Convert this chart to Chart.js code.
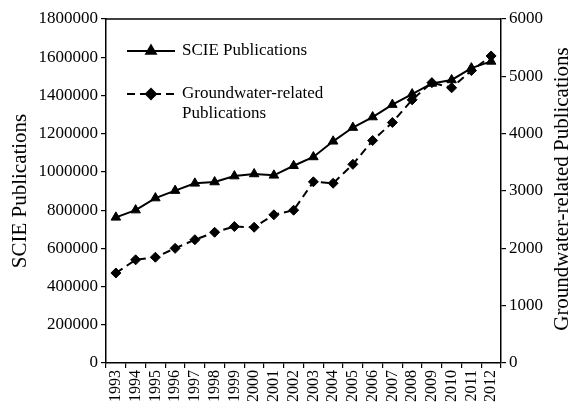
<!DOCTYPE html>
<html>
<head>
<meta charset="utf-8">
<script src="https://cdn.jsdelivr.net/npm/chart.js@4/dist/chart.umd.min.js"></script>
<style>
  html, body { margin: 0; padding: 0; background: #fff; }
  #wrap { width: 570px; height: 402px; }
</style>
</head>
<body>
<div id="wrap"><canvas id="pubs"></canvas></div>
<script>
  // years on the x axis
  const years = ['1993', '1994', '1995', '1996', '1997', '1998', '1999', '2000', '2001', '2002',
                 '2003', '2004', '2005', '2006', '2007', '2008', '2009', '2010', '2011', '2012'];

  // SCIE publications (left axis)
  const sciePubs = [762000, 800000, 863000, 902000, 940000, 947000, 978000, 989000, 982000, 1032000,
                    1078000, 1160000, 1232000, 1287000, 1352000, 1407000, 1463000, 1481000, 1543000, 1578000];

  // groundwater-related publications (right axis)
  const gwPubs = [1570, 1800, 1845, 2000, 2150, 2280, 2380, 2368, 2585, 2665,
                  3160, 3135, 3465, 3880, 4195, 4590, 4890, 4800, 5100, 5355];

  const leftTicks = [0, 1800000, 200000];   // min, max, step
  const rightTicks = [0, 6000, 1000];
  const rightTitle = 'Groundwater-related Publications';

  const serif = "'Liberation Serif', 'Times New Roman', serif";

  // legend inside the plot, top border of the frame, and the right axis title (reads upward)
  const boxLegend = {
    id: 'boxLegend',
    afterDatasetsDraw(chart) {
      const ctx = chart.ctx;
      const a = chart.chartArea;
      ctx.save();
      ctx.strokeStyle = '#000';
      ctx.lineWidth = 1.5;
      ctx.beginPath();
      ctx.moveTo(a.left, a.top);
      ctx.lineTo(a.right, a.top);
      ctx.stroke();

      const items = [
        { ds: chart.data.datasets[0], y: a.top + 32, lines: ['SCIE Publications'] },
        { ds: chart.data.datasets[1], y: a.top + 75, lines: ['Groundwater-related', 'Publications'] }
      ];
      items.forEach(it => {
        const x0 = a.left + 21, x1 = a.left + 69, xm = (x0 + x1) / 2;
        ctx.strokeStyle = '#000';
        ctx.lineWidth = 2;
        ctx.setLineDash(it.ds.borderDash || []);
        ctx.beginPath();
        ctx.moveTo(x0, it.y);
        ctx.lineTo(x1, it.y);
        ctx.stroke();
        ctx.setLineDash([]);
        Chart.helpers.drawPoint(ctx, {
          pointStyle: it.ds.pointStyle, radius: it.ds.pointRadius, rotation: 0, borderWidth: 1
        }, xm, it.y);
        ctx.fillStyle = '#000';
        ctx.font = '17px ' + serif;
        ctx.textBaseline = 'middle';
        ctx.textAlign = 'left';
        it.lines.forEach((t, i) => ctx.fillText(t, x1 + 7, it.y + i * 20));
      });

      ctx.translate(chart.width - 8, (a.top + a.bottom) / 2 - 2);
      ctx.rotate(-Math.PI / 2);
      ctx.font = '21px ' + serif;
      ctx.textAlign = 'center';
      ctx.textBaseline = 'middle';
      ctx.fillText(rightTitle, 0, 0);
      ctx.restore();
    }
  };

  const plain = v => String(v);

  new Chart(document.getElementById('pubs'), {
    type: 'line',
    data: {
      labels: years,
      datasets: [
        {
          label: 'SCIE Publications',
          data: sciePubs,
          yAxisID: 'y',
          borderColor: '#000',
          backgroundColor: '#000',
          borderWidth: 2,
          pointStyle: 'triangle',
          pointRadius: 5.5,
          pointBorderWidth: 1,
          tension: 0
        },
        {
          label: rightTitle,
          data: gwPubs,
          yAxisID: 'y2',
          borderColor: '#000',
          backgroundColor: '#000',
          borderWidth: 2,
          borderDash: [8, 5],
          pointStyle: 'rectRot',
          pointRadius: 5,
          pointBorderWidth: 1,
          tension: 0
        }
      ]
    },
    options: {
      responsive: true,
      maintainAspectRatio: false,
      animation: false,
      layout: { padding: { top: 19, right: 0, left: 0, bottom: 0 } },
      plugins: { legend: { display: false }, tooltip: { enabled: false } },
      scales: {
        x: {
          offset: true,
          grid: { offset: true, drawOnChartArea: false, drawTicks: true, tickLength: 5, color: '#000', lineWidth: 1.2 },
          border: { display: true, color: '#000', width: 1.5 },
          ticks: { color: '#000', font: { family: serif, size: 16 }, minRotation: 90, maxRotation: 90, padding: 2, autoSkip: false },
          afterFit(s) { s.height = 39; }
        },
        y: {
          position: 'left',
          min: leftTicks[0], max: leftTicks[1],
          grid: { drawOnChartArea: false, drawTicks: true, tickLength: 5, color: '#000', lineWidth: 1.2 },
          border: { display: true, color: '#000', width: 1.5 },
          ticks: { stepSize: leftTicks[2], color: '#000', font: { family: serif, size: 17 }, padding: 3, callback: plain },
          title: { display: true, text: 'SCIE Publications', color: '#000', font: { family: serif, size: 21 }, padding: { top: 8, bottom: 0 } },
          afterFit(s) { s.width = 106; }
        },
        y2: {
          position: 'right',
          min: rightTicks[0], max: rightTicks[1],
          grid: { drawOnChartArea: false, drawTicks: true, tickLength: 5, color: '#000', lineWidth: 1.2 },
          border: { display: true, color: '#000', width: 1.5 },
          ticks: { stepSize: rightTicks[2], color: '#000', font: { family: serif, size: 17 }, padding: 3, callback: plain },
          afterFit(s) { s.width = 69; }
        }
      }
    },
    plugins: [boxLegend]
  });
</script>
</body>
</html>
